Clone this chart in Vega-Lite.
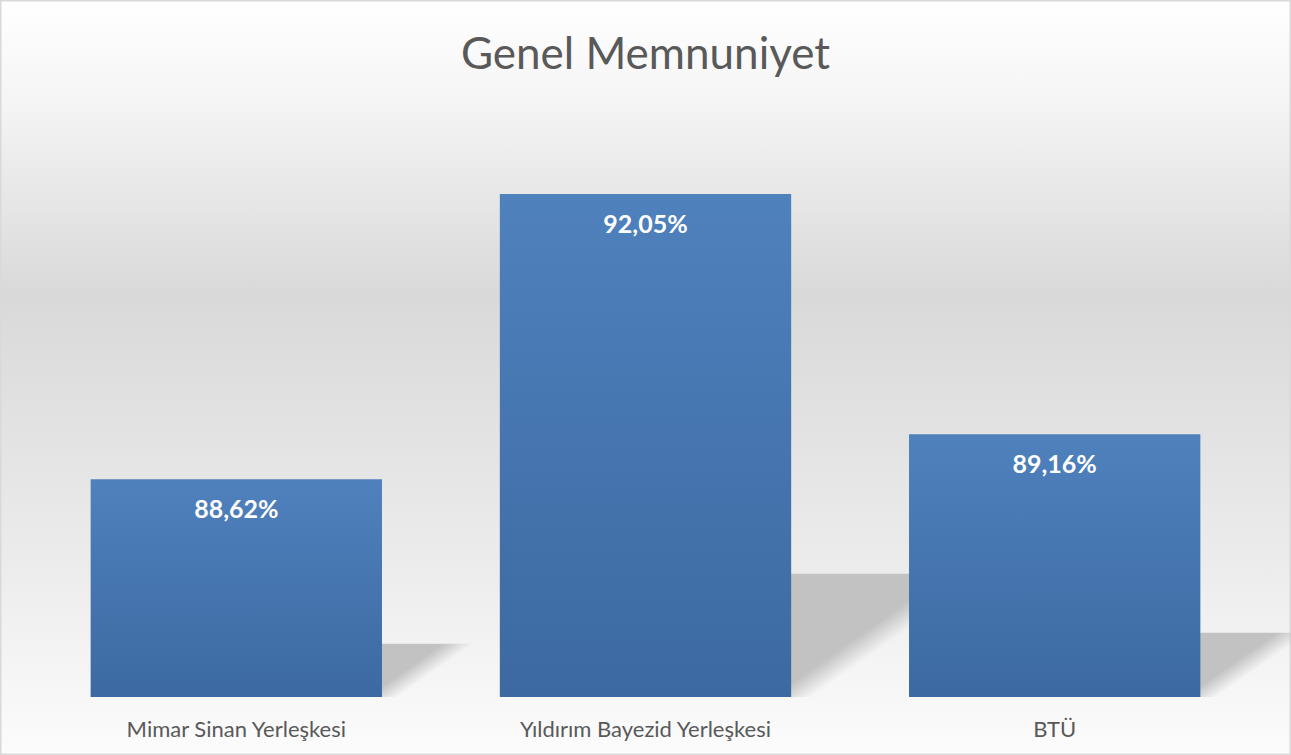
{
  "$schema": "https://vega.github.io/schema/vega-lite/v6.json",
  "width": 1291,
  "height": 755,
  "autosize": "none",
  "padding": 0,
  "background": "#ffffff",
  "config": {
    "locale": {"number": {"decimal": ",", "thousands": ".", "grouping": [3], "currency": ["", " ₺"], "percent": "%"}},
    "view": {
      "fill": {"gradient": "linear", "x1": 0, "y1": 0, "x2": 0, "y2": 1, "stops": [
        {"offset": 0, "color": "#ffffff"},
        {"offset": 0.12, "color": "#f6f6f6"},
        {"offset": 0.39, "color": "#d9d9d9"},
        {"offset": 0.75, "color": "#ececec"},
        {"offset": 1, "color": "#fcfcfc"}
      ]},
      "stroke": "#d9d9d9",
      "strokeWidth": 3
    }
  },
  "title": {
    "text": "Genel Memnuniyet",
    "font": "Lato",
    "fontSize": 44,
    "fontWeight": "normal",
    "color": "#595959",
    "anchor": "middle",
    "baseline": "alphabetic",
    "offset": -113
  },
  "data": {"values": [
    {"campus": "Mimar Sinan Yerleşkesi", "value": 0.8862},
    {"campus": "Yıldırım Bayezid Yerleşkesi", "value": 0.9205},
    {"campus": "BTÜ", "value": 0.8916}
  ]},
  "encoding": {
    "x": {
      "field": "campus", "type": "nominal", "sort": null,
      "scale": {"paddingInner": 0.288, "paddingOuter": 0.2215},
      "axis": {
        "title": null, "orient": "bottom", "offset": -58, "domain": false, "ticks": false, "tickSize": 0,
        "labelPadding": 39, "labelBaseline": "alphabetic", "labelFont": "Lato", "labelFontSize": 22,
        "labelColor": "#595959", "labelAngle": 0, "labelLimit": 0, "grid": false
      }
    }
  },
  "layer": [
    {
      "mark": {"type": "bar", "clip": true, "xOffset": 120},
      "encoding": {
        "y": {"field": "value", "type": "quantitative", "scale": {"domain": [0.83151, 1.2023], "zero": false, "nice": false}, "axis": null},
        "y2": {"datum": 0.86},
        "fill": {
          "condition": [
            {"test": "datum.campus === 'Yıldırım Bayezid Yerleşkesi'", "value": {"gradient": "linear", "x1": 1.139, "y1": -0.03, "x2": 1.239, "y2": 0.03, "stops": [{"offset": 0, "color": "#c2c2c2"}, {"offset": 1, "color": "rgba(194,194,194,0)"}]}},
            {"test": "datum.campus === 'BTÜ'", "value": {"gradient": "linear", "x1": 0.854, "y1": -0.0158, "x2": 0.954, "y2": 0.0158, "stops": [{"offset": 0, "color": "#c2c2c2"}, {"offset": 1, "color": "rgba(194,194,194,0)"}]}}
          ],
          "value": {"gradient": "linear", "x1": 0.799, "y1": -0.013, "x2": 0.899, "y2": 0.013, "stops": [{"offset": 0, "color": "#c2c2c2"}, {"offset": 1, "color": "rgba(194,194,194,0)"}]}
        }
      }
    },
    {
      "encoding": {
        "y": {"field": "value", "type": "quantitative", "scale": {"domain": [0.85302, 0.94384], "zero": false, "nice": false}, "axis": null}
      },
      "layer": [
        {
          "mark": {"type": "bar", "fill": {"gradient": "linear", "x1": 0, "y1": 0, "x2": 0, "y2": 1, "stops": [{"offset": 0, "color": "#4f81bd"}, {"offset": 1, "color": "#3c69a1"}]}},
          "encoding": {"y2": {"datum": 0.86}}
        },
        {
          "mark": {"type": "text", "color": "#ffffff", "font": "Lato", "fontWeight": "bold", "fontSize": 25, "baseline": "alphabetic", "dy": 39},
          "encoding": {"text": {"field": "value", "type": "quantitative", "format": ".2%"}}
        }
      ]
    }
  ],
  "resolve": {"scale": {"y": "independent"}}
}
